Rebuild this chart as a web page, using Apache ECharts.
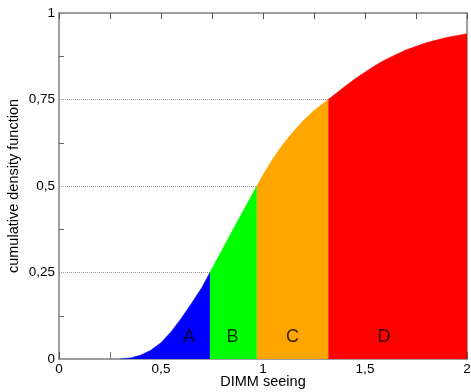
<!DOCTYPE html>
<html>
<head>
<meta charset="utf-8">
<script src="https://cdn.jsdelivr.net/npm/echarts@6/dist/echarts.min.js"></script>
<style>
  html, body { margin: 0; padding: 0; background: #fff; }
  #chart { width: 471px; height: 392px; }
</style>
</head>
<body>
<div id="chart"></div>
<script>
// Cumulative distribution of DIMM seeing, split into classes A-D at the quartiles
const seeingA = [0.30, 0.35, 0.40, 0.45, 0.50, 0.55, 0.60, 0.65, 0.70, 0.74];
const cdfA    = [0.000, 0.003, 0.011, 0.025, 0.047, 0.079, 0.118, 0.161, 0.206, 0.250];
const seeingB = [0.74, 0.80, 0.85, 0.90, 0.97];
const cdfB    = [0.250, 0.316, 0.371, 0.425, 0.500];
const seeingC = [0.97, 1.00, 1.05, 1.10, 1.15, 1.20, 1.25, 1.32];
const cdfC    = [0.500, 0.532, 0.580, 0.622, 0.658, 0.690, 0.718, 0.750];
const seeingD = [1.32, 1.40, 1.45, 1.50, 1.55, 1.60, 1.70, 1.80, 1.90, 2.00];
const cdfD    = [0.750, 0.787, 0.809, 0.829, 0.848, 0.865, 0.893, 0.914, 0.929, 0.940];

const classNames  = ['A', 'B', 'C', 'D'];
const classColors = ['#0000ff', '#00ff00', '#ffa500', '#ff0000'];
const classLabelX = [0.637, 0.851, 1.145, 1.593];
const classLabelY = [0.064, 0.064, 0.064, 0.064];

const xTicks = [0, 0.5, 1, 1.5, 2];
const yTicks = [0, 0.25, 0.5, 0.75, 1];

const FONT = '"Liberation Sans", Arial, Helvetica, sans-serif';
const AXIS_GRAY = '#808080';

const pairs = (xs, ys) => xs.map((x, i) => [x, ys[i]]);
const commaNum = v => String(+v.toFixed(2)).replace('.', ',');

const classSeries = [
  [seeingA, cdfA], [seeingB, cdfB], [seeingC, cdfC], [seeingD, cdfD]
].map(([xs, ys], i) => ({
  name: classNames[i],
  type: 'line',
  xAxisIndex: 0,
  yAxisIndex: 0,
  data: pairs(xs, ys),
  showSymbol: false,
  symbol: 'none',
  smooth: false,
  lineStyle: { width: 0.6, color: classColors[i] },
  areaStyle: { color: classColors[i], opacity: 1 },
  silent: true,
  z: 2
}));

const chart = echarts.init(document.getElementById('chart'), null, { renderer: 'canvas' });

chart.setOption({
  animation: false,
  backgroundColor: '#ffffff',
  textStyle: { fontFamily: FONT },
  grid: { left: 59, right: 4, top: 13, bottom: 33, containLabel: false, outerBoundsMode: 'none' },
  xAxis: [
    {
      type: 'value', position: 'bottom',
      min: xTicks[0], max: xTicks[xTicks.length - 1], interval: 0.5,
      name: 'DIMM seeing', nameLocation: 'middle', nameGap: 15, nameMoveOverlap: false,
      nameTextStyle: { fontSize: 14.5, color: '#000', fontFamily: FONT },
      axisLine: { show: true, onZero: false, lineStyle: { color: AXIS_GRAY, width: 1.5 } },
      axisTick: { show: true, inside: true, length: 7, lineStyle: { color: '#555' } },
      minorTick: { show: true, splitNumber: 2, length: 7, lineStyle: { color: '#777' } },
      axisLabel: { fontSize: 13.5, color: '#000', margin: 3, fontFamily: FONT, formatter: commaNum },
      splitLine: { show: false }
    },
    {
      type: 'value', position: 'top',
      min: xTicks[0], max: xTicks[xTicks.length - 1], interval: 0.25,
      axisLine: { show: true, onZero: false, lineStyle: { color: AXIS_GRAY, width: 1.5 } },
      axisTick: { show: true, inside: true, length: 6, lineStyle: { color: '#555' } },
      axisLabel: { show: false },
      splitLine: { show: false }
    }
  ],
  yAxis: [
    {
      type: 'value', position: 'left',
      min: yTicks[0], max: yTicks[yTicks.length - 1], interval: 0.25,
      name: 'cumulative density function', nameLocation: 'middle', nameGap: 38, nameMoveOverlap: false,
      nameTextStyle: { fontSize: 14.5, color: '#000', fontFamily: FONT },
      axisLine: { show: true, onZero: false, lineStyle: { color: AXIS_GRAY, width: 1.5 } },
      axisTick: { show: true, inside: true, length: 5, lineStyle: { color: '#999', type: 'dotted' } },
      minorTick: { show: true, splitNumber: 2, length: 5, lineStyle: { color: '#666' } },
      axisLabel: { fontSize: 13.5, color: '#000', margin: 4, fontFamily: FONT, formatter: commaNum },
      splitLine: {
        show: true, showMinLine: false, showMaxLine: false,
        lineStyle: { color: '#999', type: 'dotted', width: 1 }
      }
    },
    {
      type: 'value', position: 'right',
      min: yTicks[0], max: yTicks[yTicks.length - 1], interval: 0.25,
      axisLine: { show: true, onZero: false, lineStyle: { color: AXIS_GRAY, width: 1.5 } },
      axisTick: { show: true, inside: true, length: 5, lineStyle: { color: '#999', type: 'dotted' } },
      minorTick: { show: true, splitNumber: 2, length: 5, lineStyle: { color: '#666' } },
      axisLabel: { show: false },
      splitLine: { show: false }
    }
  ],
  series: classSeries.concat([{
    name: 'class labels',
    type: 'scatter',
    xAxisIndex: 0,
    yAxisIndex: 0,
    data: classNames.map((n, i) => ({ name: n, value: [classLabelX[i], classLabelY[i]] })),
    symbolSize: 0,
    silent: true,
    z: 5,
    label: {
      show: true, position: 'inside', formatter: p => p.name,
      fontSize: 18, color: '#000', fontFamily: FONT
    }
  }])
});
</script>
</body>
</html>
